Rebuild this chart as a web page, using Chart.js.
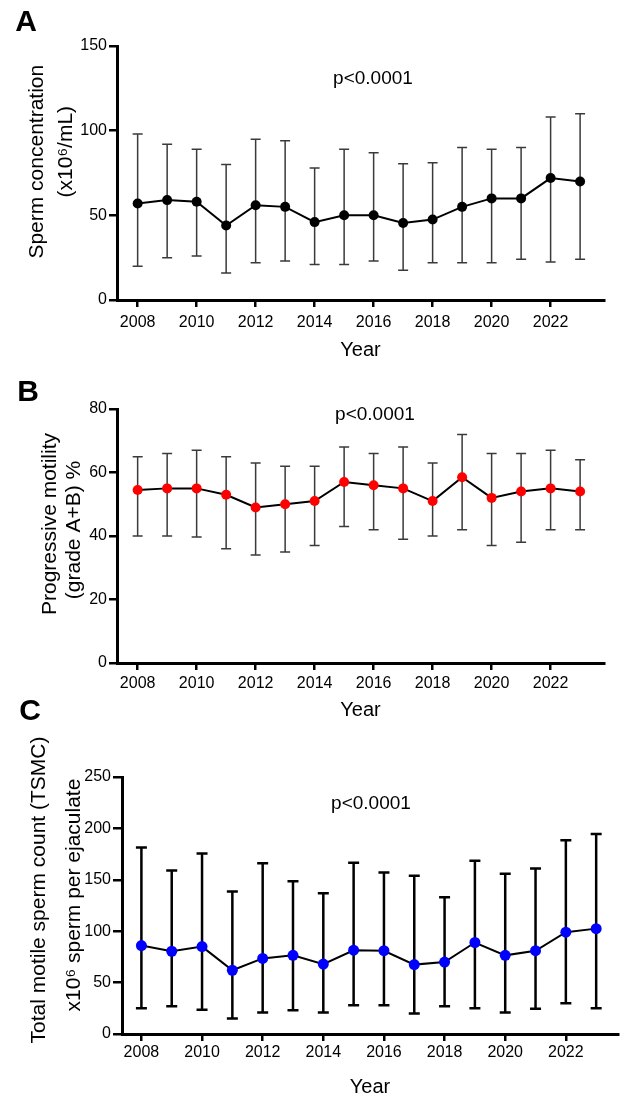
<!DOCTYPE html>
<html><head><meta charset="utf-8">
<script src="https://cdn.jsdelivr.net/npm/chart.js@4.4.1/dist/chart.umd.min.js"></script>
<style>
html,body{margin:0;padding:0;background:#fff;width:624px;height:1097px;overflow:hidden;}
canvas{position:absolute;left:0;}
</style></head><body>
<canvas id="cA" width="624" height="362" style="top:0px;width:624px;height:362px"></canvas>
<canvas id="cB" width="624" height="362" style="top:360px;width:624px;height:362px"></canvas>
<canvas id="cC" width="624" height="399" style="top:700px;width:624px;height:399px"></canvas>
<script>
// ---- data ----
const years = [2008,2009,2010,2011,2012,2013,2014,2015,2016,2017,2018,2019,2020,2021,2022,2023];
const yearTicks = [2008,2010,2012,2014,2016,2018,2020,2022];

const concMean  = [57, 59, 58, 44, 56, 55, 46, 50, 50, 45.5, 47.5, 55, 60, 60, 72, 70];
const concUpper = [98, 92, 89, 80, 95, 94, 78, 89, 87, 80.5, 81, 90, 89, 90, 108, 110];
const concLower = [20, 25, 26, 16, 22, 23, 21, 21, 23, 17.5, 22, 22, 22, 24, 22.5, 24];
const concTicks = [0, 50, 100, 150];

const motMean  = [54.5, 55, 55, 53, 49, 50, 51, 57, 56, 55, 51, 58.5, 52, 54, 55, 54];
const motUpper = [65, 66, 67, 65, 63, 62, 62, 68, 66, 68, 63, 72, 66, 66, 67, 64];
const motLower = [40, 40, 39.7, 36, 34, 35, 37, 43, 42, 39, 40, 42, 37, 38, 42, 42];
const motTicks = [0, 20, 40, 60, 80];

const tsmcMean  = [86, 80.5, 85, 62, 73.5, 76.5, 68, 81.5, 81, 67.5, 70, 89, 76.5, 81, 99, 102.5];
const tsmcUpper = [181.5, 159, 175.5, 138.5, 166, 148.5, 137, 166.5, 157, 154, 133, 168.5, 156, 161, 188.5, 194.5];
const tsmcLower = [25, 27, 23.5, 15, 21, 23, 21, 28, 28, 20, 27, 25, 21, 24.5, 30, 25];
const tsmcTicks = [0, 50, 100, 150, 200, 250];

const FONT = "'Liberation Sans', Arial, Helvetica, sans-serif";

function makeAnnot(c) {
  return {
    id: 'annot' + c.letter,
    beforeDatasetsDraw(chart) {
      const ctx = chart.ctx, xs = chart.scales.x, ys = chart.scales.y;
      ctx.save();
      ctx.strokeStyle = c.barColor; ctx.lineWidth = c.barWidth;
      years.forEach((yr, i) => {
        const px = xs.getPixelForValue(yr);
        const pu = ys.getPixelForValue(c.upper[i]);
        const pl = ys.getPixelForValue(c.lower[i]);
        const h = c.cap / 2;
        ctx.beginPath();
        ctx.moveTo(px, pu); ctx.lineTo(px, pl);
        ctx.moveTo(px - h, pu); ctx.lineTo(px + h, pu);
        ctx.moveTo(px - h, pl); ctx.lineTo(px + h, pl);
        ctx.stroke();
      });
      ctx.restore();
    },
    afterDraw(chart) {
      const ctx = chart.ctx, off = c.top;
      ctx.save();
      ctx.fillStyle = '#000';
      ctx.textAlign = 'center';
      ctx.textBaseline = 'middle';
      ctx.font = 'bold 30px ' + FONT;
      ctx.fillText(c.letter, c.letterX, c.letterY - off);
      ctx.textBaseline = 'alphabetic';
      ctx.font = '19px ' + FONT;
      ctx.fillText('p<0.0001', c.pX, c.pY - off);
      ctx.font = '21px ' + FONT;
      c.yTitle.forEach(l => {
        ctx.save();
        ctx.translate(l.x, l.y - off);
        ctx.rotate(-Math.PI / 2);
        ctx.fillText(l.text, 0, 0);
        ctx.restore();
      });
      ctx.restore();
    }
  };
}

function makeChart(id, c) {
  const ctx = document.getElementById(id).getContext('2d');
  new Chart(ctx, {
    type: 'line',
    data: {
      datasets: [{
        data: years.map((yr, i) => ({ x: yr, y: c.mean[i] })),
        borderColor: '#000',
        borderWidth: 2,
        tension: 0,
        pointRadius: c.radius,
        pointBackgroundColor: c.color,
        pointBorderColor: c.color,
        pointBorderWidth: 0,
        clip: false
      }]
    },
    options: {
      responsive: false,
      animation: false,
      devicePixelRatio: 1,
      layout: { padding: { left: 0, right: c.right, top: c.padTop, bottom: 0 } },
      plugins: { legend: { display: false }, tooltip: { enabled: false } },
      scales: {
        x: {
          type: 'linear', min: c.xmin, max: c.xmax,
          afterBuildTicks: s => { s.ticks = yearTicks.map(v => ({ value: v })); },
          afterFit: s => { s.height = c.xHeight; },
          grid: { drawOnChartArea: false, drawTicks: true, tickLength: 7, lineWidth: 2.5, color: '#000' },
          border: { display: true, width: 3, color: '#000' },
          ticks: { font: { family: FONT, size: 16 }, color: '#000', padding: c.xPad, maxRotation: 0, autoSkip: false,
                   callback: v => String(v) },
          title: { display: true, text: 'Year', color: '#000', font: { family: FONT, size: 20 }, padding: { top: 0, bottom: 0 } }
        },
        y: {
          type: 'linear', min: 0, max: c.yTicks[c.yTicks.length - 1],
          afterBuildTicks: s => { s.ticks = c.yTicks.map(v => ({ value: v })); },
          afterFit: s => { s.width = c.yWidth; },
          grid: { drawOnChartArea: false, drawTicks: true, tickLength: c.yTl, lineWidth: 2.5, color: '#000' },
          border: { display: true, width: 3, color: '#000' },
          ticks: { font: { family: FONT, size: 16 }, color: '#000', padding: c.yPad }
        }
      }
    },
    plugins: [makeAnnot(c)]
  });
}

makeChart('cA', {
  letter: 'A', top: 0, letterX: 26, letterY: 22.5, pX: 373, pY: 84,
  mean: concMean, upper: concUpper, lower: concLower, yTicks: concTicks,
  color: '#000', radius: 5, barColor: '#3a3a3a', barWidth: 1.5, cap: 10,
  xmin: 2007.30, xmax: 2023.81, right: 20, padTop: 46, yWidth: 117, xHeight: 62,
  xPad: 6, yPad: 2, yTl: 8,
  yTitle: [ { text: 'Sperm concentration', x: 43, y: 161.7 }, { text: '(x10\u2076/mL)', x: 72, y: 151.7 } ]
});
makeChart('cB', {
  letter: 'B', top: 360, letterX: 28, letterY: 393, pX: 375, pY: 420,
  mean: motMean, upper: motUpper, lower: motLower, yTicks: motTicks,
  color: '#ff0000', radius: 5, barColor: '#3a3a3a', barWidth: 1.5, cap: 10,
  xmin: 2007.30, xmax: 2023.81, right: 20, padTop: 49, yWidth: 117, xHeight: 59,
  xPad: 4, yPad: 2, yTl: 8,
  yTitle: [ { text: 'Progressive motility', x: 56, y: 524 }, { text: '(grade A+B) %', x: 80.3, y: 530 } ]
});
makeChart('cC', {
  letter: 'C', top: 700, letterX: 30, letterY: 712, pX: 371, pY: 809,
  mean: tsmcMean, upper: tsmcUpper, lower: tsmcLower, yTicks: tsmcTicks,
  color: '#0000ff', radius: 5.5, barColor: '#000', barWidth: 2.5, cap: 11,
  xmin: 2007.36, xmax: 2023.72, right: 6, padTop: 77, yWidth: 122, xHeight: 65,
  xPad: 2, yPad: 2, yTl: 9,
  yTitle: [ { text: 'Total motile sperm count (TSMC)', x: 44.5, y: 890 }, { text: 'x10\u2076 sperm per ejaculate', x: 80, y: 895 } ]
});
</script>
</body></html>
